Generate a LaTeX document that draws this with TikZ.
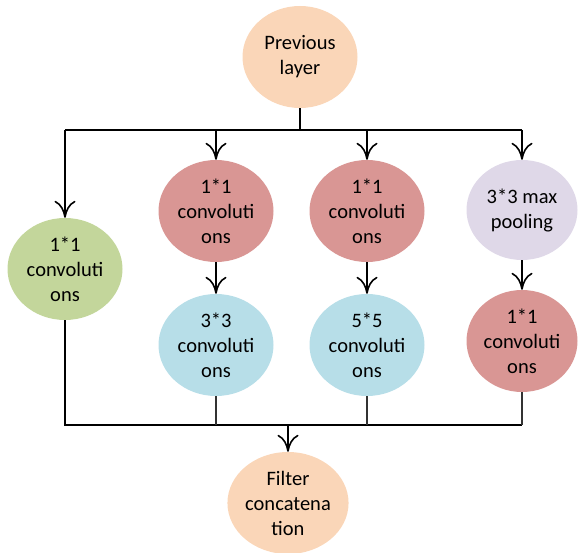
\documentclass[tikz,border=0pt]{standalone}
\usepackage{fontspec}
\setmainfont{Carlito}
\usetikzlibrary{arrows.meta,shapes.geometric}
\definecolor{peach}{HTML}{FAD6B8}
\definecolor{sage}{HTML}{C3D69B}
\definecolor{rose}{HTML}{D99694}
\definecolor{sky}{HTML}{B7DEE8}
\definecolor{lilac}{HTML}{DFD8E8}
\tikzset{
  blob/.style={ellipse, inner sep=0pt, minimum width=115pt, minimum height=102pt,
    align=center, font=\fontsize{20.5}{25}\selectfont},
  wire/.style={line width=1.6pt, black},
  feed/.style={wire, -{Computer Modern Rightarrow[length=17pt,width=21pt,line width=1.6pt]}},
  thinwire/.style={line width=1.4pt, black!80},
}
\begin{document}
\begin{tikzpicture}[x=1pt,y=-1pt]
\useasboundingbox (0,0) rectangle (579,553);
% boxes
\node[blob, fill=peach] (prev) at (300,57) {Previous\\layer};
\node[blob, fill=sage]  (a1) at (65,269) {1*1\\convoluti\\ons};
\node[blob, fill=rose]  (b1) at (216,211) {1*1\\convoluti\\ons};
\node[blob, fill=sky]   (b2) at (216,345) {3*3\\convoluti\\ons};
\node[blob, fill=rose]  (c1) at (367,211) {1*1\\convoluti\\ons};
\node[blob, fill=sky]   (c2) at (367,345) {5*5\\convoluti\\ons};
\node[blob, fill=lilac, minimum width=111pt, minimum height=100pt] (d1) at (522,210) {3*3 max\\pooling};
\node[blob, fill=rose, minimum width=111pt] (d2) at (522,341) {1*1\\convoluti\\ons};
\node[blob, fill=peach] (cat) at (288,503) {Filter\\concatena\\tion};
% split bus
\coordinate (top) at (300,130);
\coordinate (tl) at (65,130);
\coordinate (tr) at (522,130);
\draw[wire] (prev.south) -- (top);
\draw[wire] (tl) -- (tr);
\draw[feed] (tl) -- (a1.north);
\draw[feed] (b1.north |- top) -- (b1.north);
\draw[feed] (c1.north |- top) -- (c1.north);
\draw[feed] (tr) -- (d1.north);
\draw[feed] (b1) -- (b2);
\draw[feed] (c1) -- (c2);
\draw[feed] (d1) -- (d2);
% merge bus
\coordinate (bl) at (65,425);
\coordinate (br) at (522,425);
\draw[wire] (a1.south) -- (bl) -- (br);
\draw[thinwire] (b2.south) -- (b2.south |- bl);
\draw[thinwire] (c2.south) -- (c2.south |- bl);
\draw[thinwire] (d2.south) -- (br);
\draw[feed] (cat.north |- bl) -- (cat.north);
\end{tikzpicture}
\end{document}
